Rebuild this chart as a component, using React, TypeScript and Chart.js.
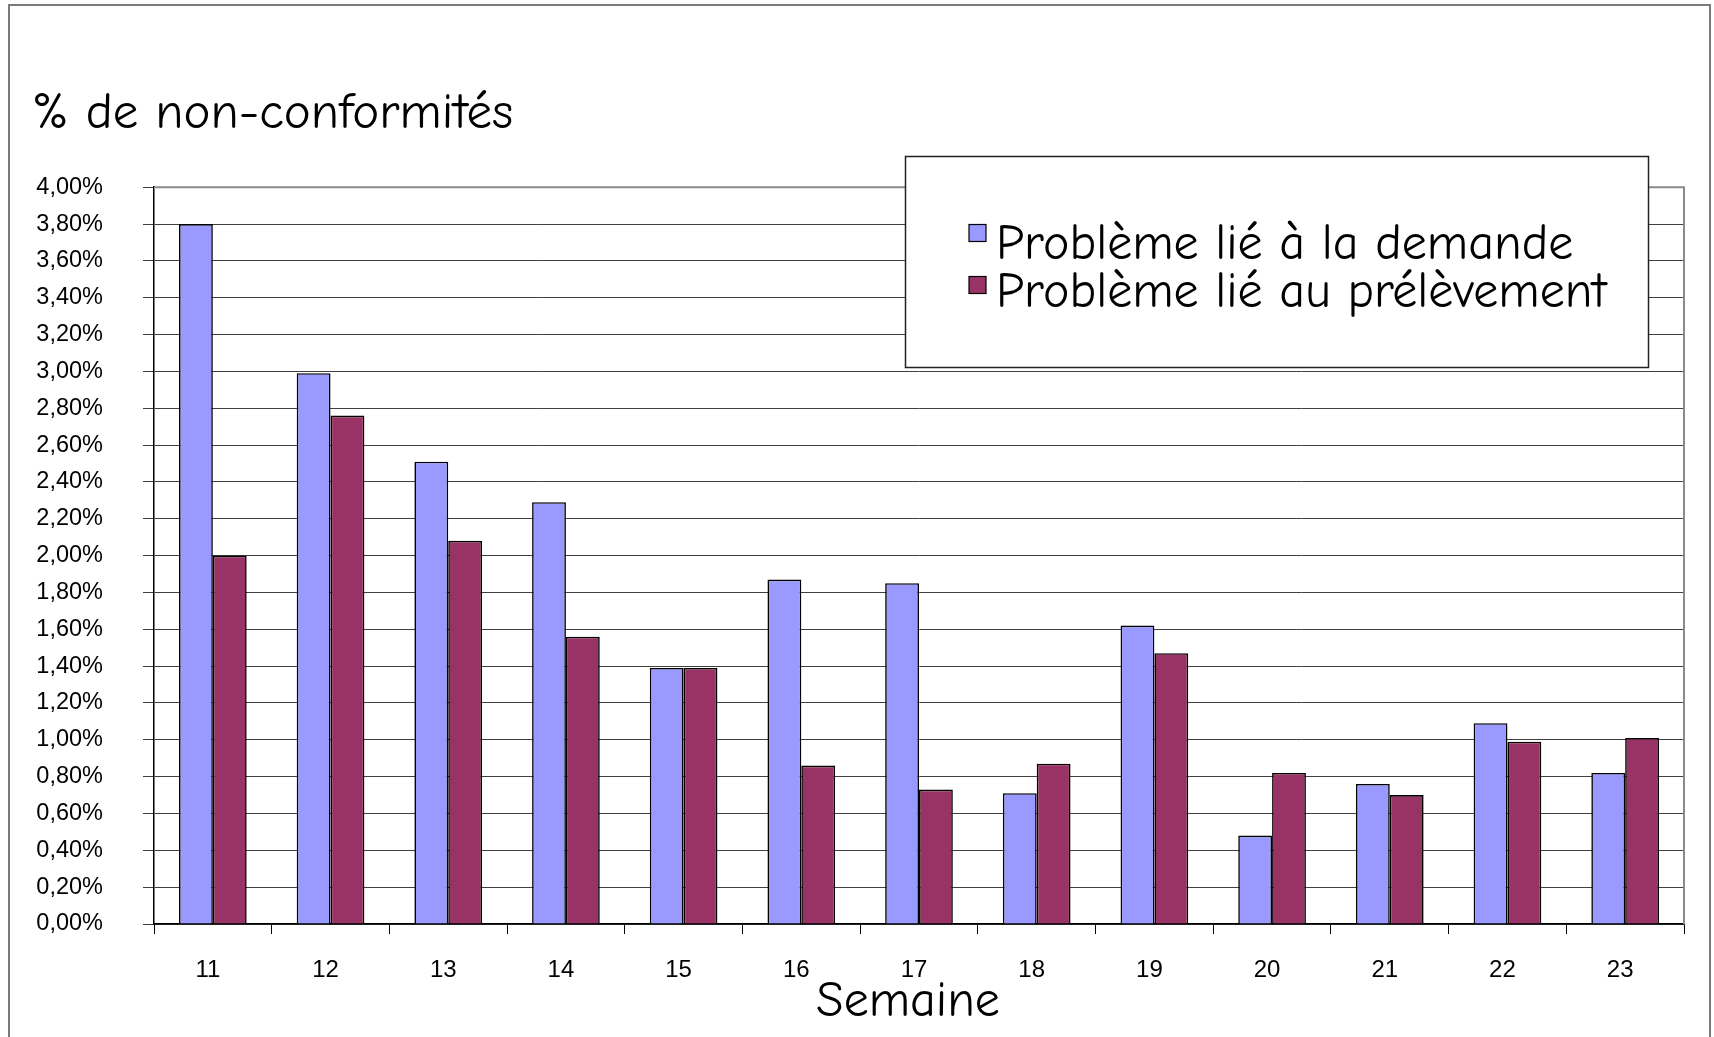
import React, { useEffect, useRef } from "react";
import { Chart, registerables } from "chart.js";

Chart.register(...registerables);

// ---- data ----
const weeks = ["11", "12", "13", "14", "15", "16", "17", "18", "19", "20", "21", "22", "23"];
const demandeValues = [3.8, 2.99, 2.51, 2.29, 1.39, 1.87, 1.85, 0.71, 1.62, 0.48, 0.76, 1.09, 0.82];
const prelevementValues = [2.0, 2.76, 2.08, 1.56, 1.39, 0.86, 0.73, 0.87, 1.47, 0.82, 0.7, 0.99, 1.01];
const seriesLabels = ["Problème lié à la demande", "Problème lié au prélèvement"];
const seriesColors = ["#9999FF", "#993366"];
const yMin = 0;
const yMax = 4;
const yStep = 0.2;
const chartTitle = "% de non-conformités";
const xAxisTitle = "Semaine";

const TEXT_FONT = '"Comic Sans MS", "Comic Neue", "Open Sans", sans-serif';
const NUM_FONT = '"Liberation Sans", Arial, sans-serif';

const formatPct = (v: number) => v.toFixed(2).replace(".", ",") + "%";

const framePlugin = {
  id: "frame",
  beforeDraw(chart: any) {
    const ctx = chart.ctx;
    ctx.save();
    ctx.fillStyle = "#ffffff";
    ctx.fillRect(0, 0, chart.width, chart.height);
    ctx.strokeStyle = "#7a7a7a";
    ctx.lineWidth = 2;
    ctx.beginPath();
    ctx.moveTo(9, chart.height + 5);
    ctx.lineTo(9, 5);
    ctx.lineTo(1710, 5);
    ctx.lineTo(1710, chart.height + 5);
    ctx.stroke();
    ctx.restore();
  },
};

const plotBorderPlugin = {
  id: "plotBorder",
  beforeDatasetsDraw(chart: any) {
    const { ctx, chartArea } = chart;
    ctx.save();
    ctx.strokeStyle = "#8a8a8a";
    ctx.lineWidth = 2;
    ctx.beginPath();
    ctx.moveTo(chartArea.left, chartArea.top);
    ctx.lineTo(chartArea.right, chartArea.top);
    ctx.lineTo(chartArea.right, chartArea.bottom);
    ctx.stroke();
    ctx.restore();
  },
};

// x-axis title, drawn slightly left of the plot centre as in the original
const axisTitlePlugin = {
  id: "axisTitle",
  afterDraw(chart: any) {
    const ctx = chart.ctx;
    ctx.save();
    ctx.font = `50px ${TEXT_FONT}`;
    ctx.fillStyle = "#000";
    ctx.textAlign = "center";
    ctx.textBaseline = "alphabetic";
    ctx.fillText(xAxisTitle, 908, 1016);
    ctx.restore();
  },
};

const boxLegendPlugin = {
  id: "boxLegend",
  afterDraw(chart: any) {
    const ctx = chart.ctx;
    const box = { x: 905, y: 156, w: 743, h: 211 };
    ctx.save();
    ctx.fillStyle = "#ffffff";
    ctx.fillRect(box.x, box.y, box.w, box.h);
    ctx.strokeStyle = "#222";
    ctx.lineWidth = 1.5;
    ctx.strokeRect(box.x + 0.5, box.y + 0.5, box.w, box.h);
    ctx.font = `50px ${TEXT_FONT}`;
    ctx.textBaseline = "middle";
    ctx.textAlign = "left";
    chart.data.datasets.forEach((ds: any, i: number) => {
      const cy = 245 + i * 48;
      const my = 233 + i * 52;
      ctx.fillStyle = ds.backgroundColor;
      ctx.fillRect(969, my - 8.5, 17, 17);
      ctx.strokeStyle = "#000";
      ctx.lineWidth = 1.2;
      ctx.strokeRect(969, my - 8.5, 17, 17);
      ctx.fillStyle = "#000";
      ctx.fillText(ds.label, 996, cy);
    });
    ctx.restore();
  },
};

export default function App() {
  const canvasRef = useRef<HTMLCanvasElement | null>(null);

  useEffect(() => {
    document.body.style.margin = "0";
    const canvas = canvasRef.current;
    if (!canvas) return;
    const chart = new Chart(canvas, {
      type: "bar",
      data: {
        labels: weeks,
        datasets: [
          {
            label: seriesLabels[0],
            data: demandeValues,
            backgroundColor: seriesColors[0],
            borderColor: "#000",
            borderWidth: 1.6,
          },
          {
            label: seriesLabels[1],
            data: prelevementValues,
            backgroundColor: seriesColors[1],
            borderColor: "#000",
            borderWidth: 1.6,
          },
        ],
      },
      options: {
        responsive: false,
        animation: false,
        devicePixelRatio: 1,
        layout: { padding: { top: 83, left: 32, right: 30, bottom: 0 } },
        datasets: { bar: { categoryPercentage: 0.575, barPercentage: 1 } },
        plugins: {
          legend: { display: false },
          tooltip: { enabled: false },
          title: {
            display: true,
            text: chartTitle,
            align: "start",
            color: "#000",
            font: { family: TEXT_FONT, size: 51, weight: "normal", lineHeight: 1.2 },
            padding: { top: 0, bottom: 43 },
          },
        },
        scales: {
          x: {
            afterFit: (scale: any) => {
              scale.height = 113;
            },
            grid: {
              display: true,
              drawOnChartArea: false,
              drawTicks: true,
              tickLength: 10,
              color: "#000",
              offset: true,
            },
            border: { display: true, color: "#000", width: 1.5 },
            ticks: {
              color: "#000",
              padding: 22,
              labelOffset: -5,
              font: { family: NUM_FONT, size: 24 },
              maxRotation: 0,
            },
            title: { display: false, text: xAxisTitle },
          },
          y: {
            min: yMin,
            max: yMax,
            afterFit: (scale: any) => {
              scale.width = 122;
            },
            grid: {
              color: "#404040",
              lineWidth: 1,
              tickLength: 11,
              drawTicks: true,
            },
            border: { display: true, color: "#000", width: 1.5 },
            ticks: {
              stepSize: yStep,
              color: "#000",
              padding: 40,
              font: { family: NUM_FONT, size: 23.5 },
              callback: (v: any) => formatPct(Number(v)),
            },
          },
        },
      },
      plugins: [framePlugin, plotBorderPlugin, boxLegendPlugin, axisTitlePlugin],
    } as any);
    return () => chart.destroy();
  }, []);

  return (
    <div style={{ width: 1714, height: 1037, overflow: "hidden" }}>
      <canvas ref={canvasRef} width={1714} height={1037} style={{ display: "block" }} />
    </div>
  );
}
